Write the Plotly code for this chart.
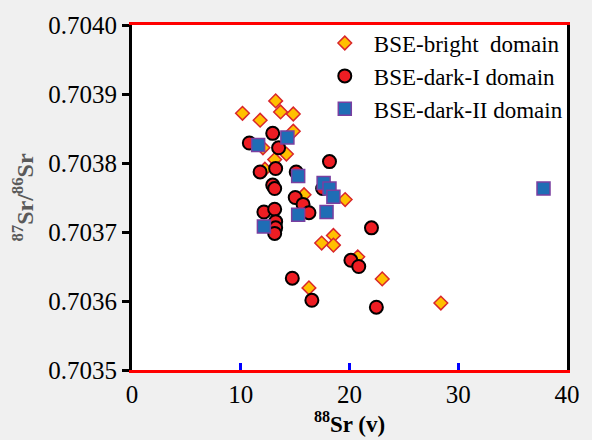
import plotly.graph_objects as go

# BSE-bright domain
bright_x = [10.16, 11.78, 13.21, 13.66, 14.83, 14.83, 12.04, 14.20, 13.12, 12.22,
            15.82, 19.60, 17.44, 18.52, 18.52, 20.76, 23.01, 16.27, 28.40]
bright_y = [0.703872, 0.703862, 0.703890, 0.703874, 0.703871, 0.703846, 0.703822, 0.703813, 0.703805, 0.703791,
            0.703754, 0.703747, 0.703684, 0.703695, 0.703681, 0.703664, 0.703632, 0.703619, 0.703597]

# BSE-dark-I domain
dark1_x = [12.94, 10.79, 13.48, 18.16, 11.78, 13.21, 15.10, 12.94, 13.12, 15.01, 15.73, 16.27,
           12.13, 13.12, 13.21, 13.21, 13.12, 17.53, 22.02, 20.13, 20.85, 14.74, 16.54, 22.47]
dark1_y = [0.703843, 0.703829, 0.703822, 0.703802, 0.703787, 0.703792, 0.703787, 0.703768, 0.703763,
           0.703750, 0.703740, 0.703728, 0.703729, 0.703733, 0.703715, 0.703706, 0.703698, 0.703763,
           0.703706, 0.703659, 0.703650, 0.703633, 0.703601, 0.703591]

# BSE-dark-II domain
dark2_x = [11.60, 14.29, 15.28, 17.62, 18.16, 18.52, 15.28, 17.89, 12.13, 37.84]
dark2_y = [0.703826, 0.703837, 0.703781, 0.703771, 0.703763, 0.703751, 0.703725, 0.703729, 0.703708, 0.703763]

x_ticks = [0, 10, 20, 30, 40]
y_ticks = [0.7035, 0.7036, 0.7037, 0.7038, 0.7039, 0.7040]

FONT = "Liberation Serif"

fig = go.Figure()
fig.add_trace(go.Scatter(
    x=bright_x, y=bright_y, mode="markers", name="BSE-bright\u00a0 domain",
    marker=dict(symbol="diamond", size=10.5, color="#FFC000",
                line=dict(color="#D9262B", width=1.5))))
fig.add_trace(go.Scatter(
    x=dark1_x, y=dark1_y, mode="markers", name="BSE-dark-I domain",
    marker=dict(symbol="circle", size=13, color="#EE1D23",
                line=dict(color="#000000", width=2))))
fig.add_trace(go.Scatter(
    x=dark2_x, y=dark2_y, mode="markers", name="BSE-dark-II domain",
    marker=dict(symbol="square", size=13, color="#1F6DB5",
                line=dict(color="#7A3FA0", width=1.5))))

fig.update_layout(
    width=592, height=440,
    margin=dict(l=132, r=15, t=21, b=63),
    paper_bgcolor="#f0f0f0", plot_bgcolor="white",
    font=dict(family=FONT, size=25, color="black"),
    showlegend=True,
    legend=dict(x=0.4225, y=1.01, xanchor="left", yanchor="top",
                itemwidth=48,
                font=dict(family=FONT, size=23, color="black"),
                bgcolor="rgba(0,0,0,0)", tracegroupgap=0),
    xaxis=dict(range=[0, 40], tickvals=x_ticks, ticktext=[str(v) for v in x_ticks],
               ticks="inside", ticklen=7, tickwidth=3, tickcolor="blue",
               showline=True, linecolor="red", linewidth=3, mirror=True,
               gridcolor="rgba(0,0,0,0)",
               tickfont=dict(family=FONT, size=25, color="black"),
               title=dict(text="<b><sup>88</sup>Sr (v)</b>", standoff=4,
                          font=dict(family=FONT, size=23, color="black"))),
    yaxis=dict(range=[0.7035, 0.7040], tickvals=y_ticks,
               ticktext=["%.4f" % v for v in y_ticks],
               ticks="outside", ticklen=7, tickwidth=3, tickcolor="black",
               showline=True, linecolor="black", linewidth=3, mirror=True,
               gridcolor="rgba(0,0,0,0)",
               tickfont=dict(family=FONT, size=25, color="black"),
               title=dict(text="<b><sup>87</sup>Sr/<sup>86</sup>Sr</b>", standoff=8,
                          font=dict(family=FONT, size=24, color="#5a5a5a"))),
)

post = ("document.body.style.margin='0';"
        "document.body.style.padding='0';"
        "document.body.style.overflow='hidden';"
        "document.documentElement.style.overflow='hidden';")
fig.write_html("out.html", config={"displayModeBar": False}, post_script=post)
